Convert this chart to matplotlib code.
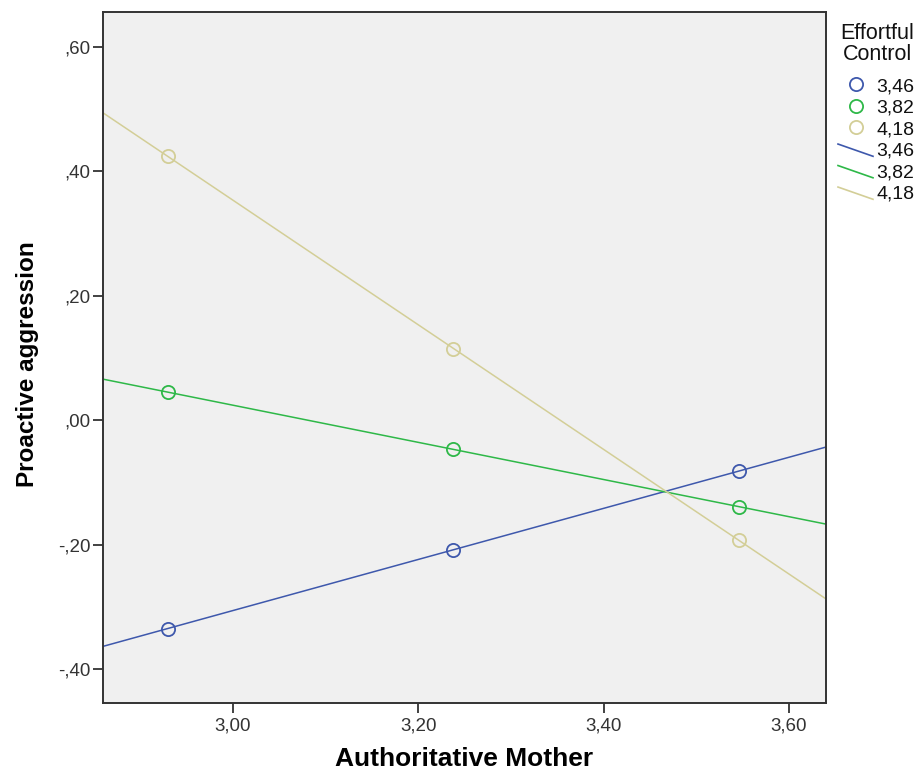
import numpy as np
import matplotlib
matplotlib.use("Agg")
import matplotlib.pyplot as plt
from matplotlib.ticker import FuncFormatter, FixedLocator
from matplotlib.lines import Line2D
from matplotlib.legend_handler import HandlerBase

plt.rcParams['font.family'] = ['Liberation Sans', 'DejaVu Sans']

# data
mother = [2.930, 3.238, 3.546]
ec_levels = ['3,46', '3,82', '4,18']
aggression = {
    '3,46': [-0.335, -0.208, -0.082],
    '3,82': [0.045, -0.047, -0.139],
    '4,18': [0.424, 0.115, -0.193],
}
colors = {'3,46': '#3E58AC', '3,82': '#2EB848', '4,18': '#D3CE97'}
x_ticks = [3.0, 3.2, 3.4, 3.6]
y_ticks = [-0.4, -0.2, 0.0, 0.2, 0.4, 0.6]
xlim = (2.860, 3.640)
ylim = (-0.4546, 0.656)


def comma_fmt(v, pos=None):
    s = f"{v:.2f}".replace('.', ',')
    if s.startswith('-0,'):
        s = '-' + s[2:]
    elif s.startswith('0,'):
        s = s[1:]
    if s == '-,00':
        s = ',00'
    return s


class DiagLineHandler(HandlerBase):
    # SPSS style slanted line sample in the legend
    def create_artists(self, legend, orig_handle, xdescent, ydescent,
                       width, height, fontsize, trans):
        x0, x1 = -xdescent, -xdescent + width
        y0, y1 = -ydescent + height * 0.85, -ydescent - height * 0.05
        ln = Line2D([x0, x1], [y0, y1], color=orig_handle.get_color(),
                    lw=orig_handle.get_linewidth(), transform=trans)
        return [ln]


fig = plt.figure(figsize=(9.21, 7.75), dpi=100)
ax = fig.add_axes([103 / 921, 1 - 703 / 775, 723 / 921, 691 / 775])
ax.set_facecolor('#F0F0F0')

xs = np.array(xlim)
for lev in ec_levels:
    ys = aggression[lev]
    # fit line across the whole x range
    k, b = np.polyfit(mother, ys, 1)
    ax.plot(xs, k * xs + b, color=colors[lev], lw=1.1, zorder=2)
    ax.plot(mother, ys, 'o', ms=9.5, mfc='none', mec=colors[lev], mew=1.3, zorder=3)

ax.set_xlim(*xlim)
ax.set_ylim(*ylim)
ax.xaxis.set_major_locator(FixedLocator(x_ticks))
ax.yaxis.set_major_locator(FixedLocator(y_ticks))
ax.xaxis.set_major_formatter(FuncFormatter(comma_fmt))
ax.yaxis.set_major_formatter(FuncFormatter(comma_fmt))
ax.tick_params(length=7.5, width=1.3, color='#333333', labelsize=13.5, labelcolor='#333333')
ax.tick_params(axis='x', pad=3)
ax.tick_params(axis='y', pad=1.5)
for sp in ax.spines.values():
    sp.set_color('#333333')
    sp.set_linewidth(1.4)

ax.set_xlabel('Authoritative Mother', fontsize=19, fontweight='bold', va='top')
ax.xaxis.set_label_coords(0.5, -(747 - 703) / 691)
ax.set_ylabel('Proactive aggression', fontsize=17.5, fontweight='bold', va='center')
ax.yaxis.set_label_coords((28 - 103) / 723, 0.49)

handles = []
labels = []
for lev in ec_levels:
    handles.append(Line2D([], [], ls='none', marker='o', ms=9.5, mfc='none', mec=colors[lev], mew=1.3))
    labels.append(lev)
line_handles = []
for lev in ec_levels:
    lh = Line2D([], [], color=colors[lev], lw=1.2)
    line_handles.append(lh)
    handles.append(lh)
    labels.append(lev)

fig.text(877 / 921, 1 - 23 / 775, 'Effortful\nControl', ha='center', va='top',
         fontsize=15.5, linespacing=1.02, color='#111111')
leg = fig.legend(handles, labels, loc='upper left',
                 bbox_to_anchor=(838 / 921, 1 - 77.5 / 775), frameon=False, fontsize=14,
                 handlelength=1.8, handletextpad=0.17, labelspacing=0.2,
                 borderaxespad=0.0, borderpad=0.0,
                 handler_map={lh: DiagLineHandler() for lh in line_handles})
for t in leg.get_texts():
    t.set_color('#111111')

fig.savefig('out.png', dpi=100)
